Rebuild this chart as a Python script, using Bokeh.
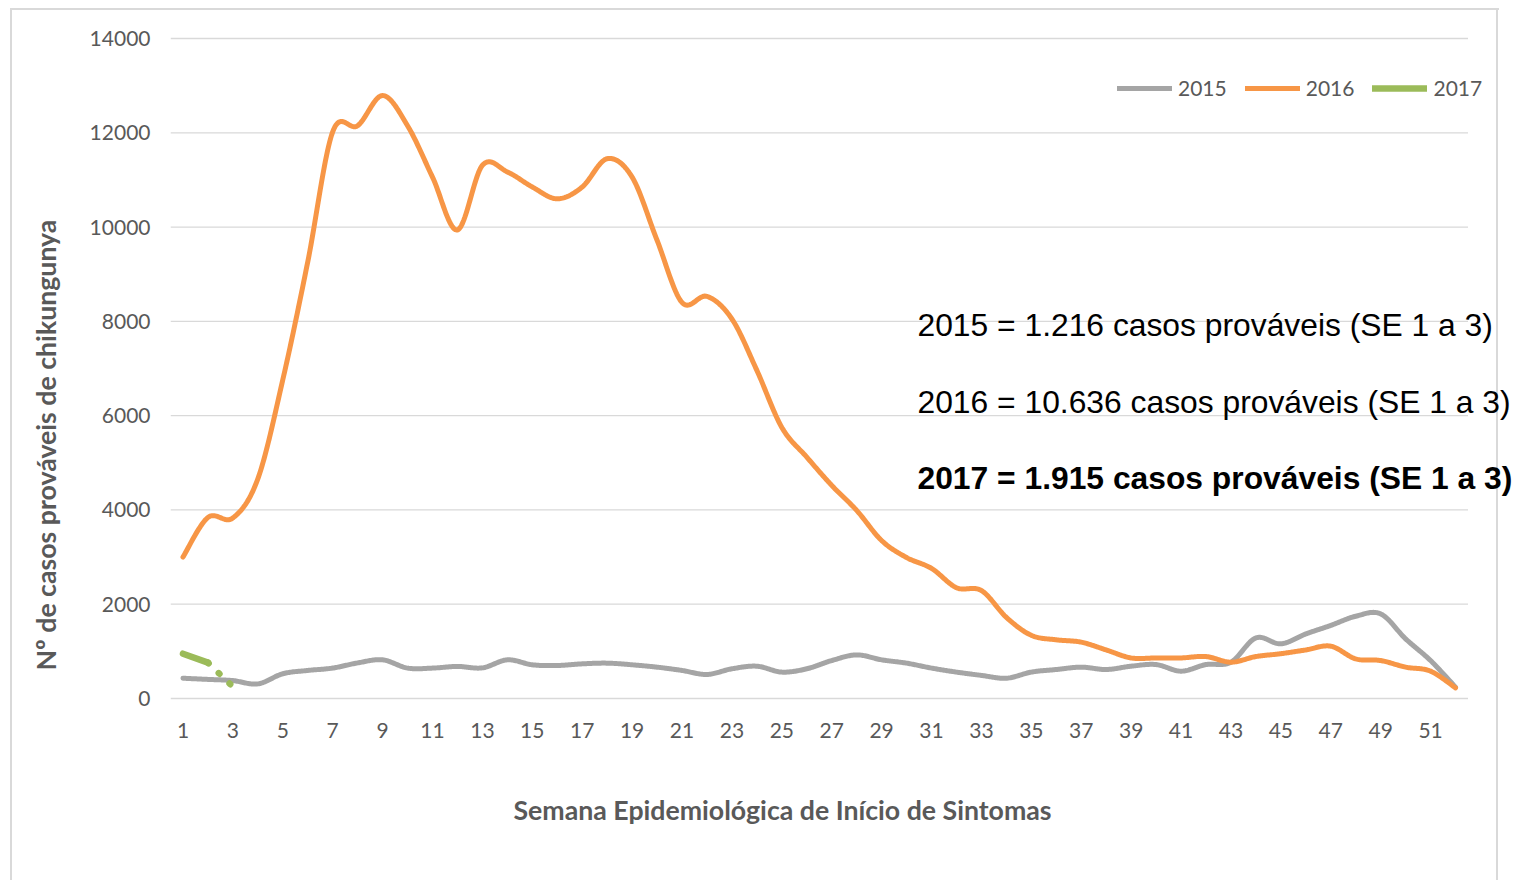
import numpy as np
from bokeh.plotting import figure
from bokeh.models import FixedTicker, Label, Legend, LegendItem, Title
from bokeh.embed import file_html
from bokeh.resources import INLINE

# ---------------- data ----------------
weeks = list(range(1, 53))
cases_2015 = [430, 405, 380, 310, 525, 595, 645, 755, 820, 645,
              645, 680, 650, 820, 715, 700, 735, 750, 715, 665,
              595, 510, 630, 685, 560, 630, 805, 925, 820, 750,
              645, 560, 490, 430, 560, 615, 665, 615, 685, 720,
              580, 720, 770, 1285, 1160, 1370, 1550, 1745, 1795, 1265,
              805, 240]
cases_2016 = [3000, 3840, 3830, 4660, 6760, 9260, 12020, 12150, 12790, 12150,
              11060, 9940, 11310, 11170, 10850, 10600, 10850, 11450, 11060, 9720,
              8400, 8530, 8050, 6960, 5750, 5120, 4520, 3990, 3350, 2990,
              2760, 2350, 2290, 1720, 1340, 1245, 1195, 1030, 860, 860,
              860, 890, 770, 890, 950, 1030, 1110, 840, 805, 665,
              580, 225]
weeks_2017 = [1, 2, 3]
cases_2017 = [950, 760, 250]

series_names = ["2015", "2016", "2017"]
x_ticks = list(range(1, 53, 2))
y_ticks = [0, 2000, 4000, 6000, 8000, 10000, 12000, 14000]
notes = ["2015 = 1.216 casos prováveis (SE 1 a 3)",
         "2016 = 10.636 casos prováveis (SE 1 a 3)",
         "2017 = 1.915 casos prováveis (SE 1 a 3)"]
x_title = "Semana Epidemiológica de Início de Sintomas"
y_title = "Nº de casos prováveis de chikungunya"

C15, C16, C17 = "#A5A5A5", "#F79646", "#9BBB59"
TXT = "#595959"
GRID = "#D9D9D9"


def smooth(xs, ys, n=24):
    """Excel-like smoothed line: cubic Bezier through the points."""
    xs = np.asarray(xs, float)
    ys = np.asarray(ys, float)
    px = np.concatenate([[xs[0]], xs, [xs[-1]]])
    py = np.concatenate([[ys[0]], ys, [ys[-1]]])
    t = np.linspace(0, 1, n + 1)[1:]
    ox, oy = [xs[0]], [ys[0]]
    for i in range(len(xs) - 1):
        p0x, p1x, p2x, p3x = px[i], px[i + 1], px[i + 2], px[i + 3]
        p0y, p1y, p2y, p3y = py[i], py[i + 1], py[i + 2], py[i + 3]
        c1x, c1y = p1x + (p2x - p0x) / 6, p1y + (p2y - p0y) / 6
        c2x, c2y = p2x - (p3x - p1x) / 6, p2y - (p3y - p1y) / 6
        a, b, c, d = (1 - t) ** 3, 3 * (1 - t) ** 2 * t, 3 * (1 - t) * t ** 2, t ** 3
        ox.extend(a * p1x + b * c1x + c * c2x + d * p2x)
        oy.extend(a * p1y + b * c1y + c * c2y + d * p2y)
    return ox, oy


# ---------------- layout (canvas pixels) ----------------
W, H = 1514, 880
PLOT_L, PLOT_R = 170.0, 1467.5     # category band 0.5 .. 52.5
PLOT_T, PLOT_B = 38.0, 698.0       # 14000 .. 0
FRAME_B = 702
ML, MR, MT, MB = int(PLOT_L), 0, 0, H - FRAME_B

kx = (PLOT_R - PLOT_L) / 52.0
ky = (PLOT_B - PLOT_T) / 14000.0
x0 = 0.5
x1 = 0.5 + (W - MR - PLOT_L) / kx
y1 = 14000 + (PLOT_T - MT) / ky
y0 = -(FRAME_B - PLOT_B) / ky

p = figure(width=W, height=H, x_range=(x0, x1), y_range=(y0, y1),
           output_backend="svg", toolbar_location=None,
           min_border_left=ML, min_border_right=MR,
           min_border_top=MT, min_border_bottom=MB)
p.border_fill_color = None
p.background_fill_color = None
p.outline_line_color = None
g = f"linear-gradient({GRID},{GRID})"
p.styles = {"background": f"{g} 10px 8px / 2px 100% no-repeat, "
                          f"{g} 10px 8px / 1489px 2px no-repeat, "
                          f"{g} 1496px 8px / 2px 100% no-repeat, white"}


def dx(px):  # canvas pixel -> data x
    return 0.5 + (px - PLOT_L) / kx


def dy(py):  # canvas pixel -> data y
    return (PLOT_B - py) / ky


p.xgrid.visible = False
p.ygrid.visible = False
# horizontal gridlines limited to the category band
p.segment(x0=0.5, x1=52.5, y0=y_ticks, y1=y_ticks, line_color=GRID, line_width=1.3)

p.xaxis.ticker = FixedTicker(ticks=x_ticks)
p.yaxis.ticker = FixedTicker(ticks=y_ticks)
for ax in (p.xaxis, p.yaxis):
    ax.axis_line_color = None
    ax.major_tick_line_color = None
    ax.minor_tick_line_color = None
    ax.major_label_text_font = "Lato"
    ax.major_label_text_font_size = "21px"
    ax.major_label_text_color = TXT
p.yaxis.major_label_standoff = 14
p.xaxis.major_label_standoff = 14

sx, sy = smooth(weeks, cases_2015)
r15 = p.line(sx, sy, line_color=C15, line_width=5, line_cap="round", line_join="round")
sx, sy = smooth(weeks, cases_2016)
r16 = p.line(sx, sy, line_color=C16, line_width=5, line_cap="round", line_join="round")
r17 = p.line(weeks_2017[:2], cases_2017[:2], line_color=C17, line_width=6.5,
             line_cap="round")
p.line(weeks_2017[1:], cases_2017[1:], line_color=C17, line_width=6.5,
       line_cap="round", line_dash="1 14")

legend = Legend(items=[LegendItem(label=series_names[0], renderers=[r15]),
                       LegendItem(label=series_names[1], renderers=[r16]),
                       LegendItem(label=series_names[2], renderers=[r17])],
                orientation="horizontal", location=(1117 - ML, FRAME_B - 100),
                glyph_width=55, glyph_height=20, label_standoff=6, spacing=18,
                padding=0, margin=0, border_line_color=None,
                background_fill_alpha=0, label_text_font="Lato",
                label_text_font_size="21px", label_text_color=TXT)
p.add_layout(legend)

# axis titles
p.add_layout(Title(text=y_title, align="left", offset=FRAME_B - 670,
                   vertical_align="bottom", standoff=50,
                   text_font="Lato", text_font_style="bold",
                   text_font_size="26.7px", text_color=TXT), "left")
p.add_layout(Title(text=x_title, align="left", offset=513 - ML,
                   vertical_align="top", standoff=106,
                   text_font="Lato", text_font_style="bold",
                   text_font_size="26.7px", text_color=TXT), "below")

# notes
for txt, ypx, style in zip(notes, [324, 401, 477], ["normal", "normal", "bold"]):
    p.add_layout(Label(x=dx(917), y=dy(ypx), text=txt, text_font="Liberation Sans",
                       text_font_style=style, text_font_size="31.8px",
                       text_color="black", text_align="left",
                       text_baseline="middle"))

open("out.html", "w").write(file_html(p, INLINE))
